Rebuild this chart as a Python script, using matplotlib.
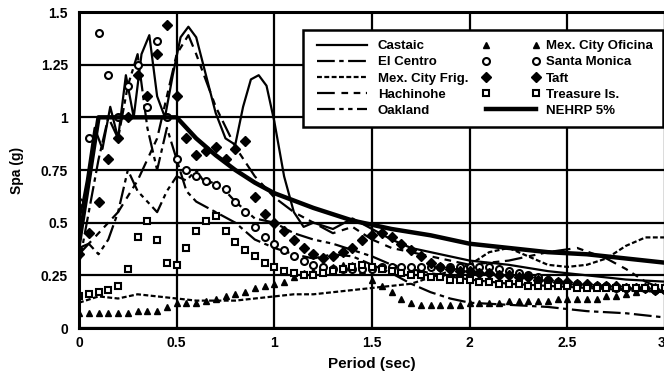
import numpy as np
import matplotlib
matplotlib.use('Agg')
import matplotlib.pyplot as plt

plt.rcParams['font.family'] = ['Liberation Sans', 'DejaVu Sans']
plt.rcParams['font.weight'] = 'bold'

# line-type spectra (period in sec, Spa in g)
castaic_t = [0, 0.04, 0.08, 0.12, 0.16, 0.2, 0.24, 0.28, 0.32, 0.36, 0.4, 0.44, 0.48, 0.52, 0.56, 0.6, 0.65,
             0.7, 0.75, 0.8, 0.84, 0.88, 0.92, 0.96, 1.0, 1.05, 1.1, 1.15, 1.2, 1.3, 1.4, 1.5, 1.6, 1.7, 1.8,
             2.0, 2.2, 2.4, 2.6, 2.8, 3.0]
castaic_s = [0.5, 0.7, 0.95, 0.85, 1.05, 0.9, 1.2, 1.0, 1.3, 1.39, 1.1, 1.0, 1.2, 1.38, 1.43, 1.38, 1.2,
             1.02, 0.9, 0.87, 1.05, 1.18, 1.2, 1.15, 0.98, 0.72, 0.55, 0.48, 0.5, 0.47, 0.52, 0.47, 0.42, 0.38, 0.36,
             0.32, 0.3, 0.27, 0.25, 0.23, 0.22]

elcentro_t = [0, 0.05, 0.1, 0.15, 0.2, 0.25, 0.3, 0.35, 0.4, 0.45, 0.5, 0.55, 0.6, 0.7, 0.8, 0.9, 1.0, 1.1,
              1.2, 1.3, 1.4, 1.5, 1.6, 1.7, 1.8, 1.9, 2.0, 2.2, 2.4, 2.6, 2.8, 3.0]
elcentro_s = [0.3, 0.55, 0.8, 1.0, 0.9, 1.15, 1.3, 0.95, 0.75, 0.95, 0.8, 0.65, 0.6, 0.55, 0.5, 0.42, 0.38, 0.35,
              0.33, 0.35, 0.34, 0.3, 0.26, 0.21, 0.17, 0.14, 0.12, 0.11, 0.1, 0.08, 0.07, 0.05]

mexfrig_t = [0, 0.1, 0.2, 0.3, 0.4, 0.5, 0.6, 0.7, 0.8, 0.9, 1.0, 1.1, 1.2, 1.3, 1.4, 1.5, 1.6, 1.7, 1.8,
             1.9, 2.0, 2.1, 2.2, 2.3, 2.4, 2.5, 2.6, 2.7, 2.8, 2.9, 3.0]
mexfrig_s = [0.12, 0.15, 0.14, 0.16, 0.15, 0.14, 0.13, 0.13, 0.13, 0.14, 0.15, 0.16, 0.16, 0.17, 0.18, 0.19,
             0.2, 0.21, 0.24, 0.27, 0.3, 0.36, 0.38, 0.34, 0.3, 0.29, 0.3, 0.33, 0.39, 0.43, 0.43]

hachinohe_t = [0, 0.1, 0.2, 0.3, 0.4, 0.45, 0.5, 0.56, 0.6, 0.7, 0.8, 0.9, 1.0, 1.1, 1.2, 1.3, 1.4, 1.5,
               1.6, 1.8, 2.0, 2.2, 2.4, 2.55, 2.7, 2.8, 2.9, 3.0]
hachinohe_s = [0.35, 0.45, 0.55, 0.7, 0.9, 1.1, 1.3, 1.39, 1.3, 1.05, 0.86, 0.72, 0.62, 0.55, 0.5, 0.45, 0.48,
               0.42, 0.38, 0.34, 0.3, 0.32, 0.36, 0.38, 0.33, 0.28, 0.22, 0.18]

oakland_t = [0, 0.05, 0.1, 0.15, 0.2, 0.25, 0.3, 0.35, 0.4, 0.45, 0.5, 0.55, 0.6, 0.65, 0.7, 0.8, 0.9, 1.0,
             1.1, 1.2, 1.3, 1.4, 1.5, 1.6, 1.8, 2.0, 2.2, 2.4, 2.6, 2.8, 3.0]
oakland_s = [0.38, 0.4, 0.35, 0.42, 0.55, 0.75, 0.65, 0.6, 0.55, 0.65, 0.72, 0.7, 0.75, 0.68, 0.7, 0.6, 0.52,
             0.5, 0.45, 0.42, 0.4, 0.37, 0.34, 0.3, 0.26, 0.23, 0.21, 0.2, 0.19, 0.18, 0.17]

nehrp_t = [0, 0.1, 0.5, 0.6, 0.7, 0.8, 0.9, 1.0, 1.2, 1.4, 1.5, 1.6, 1.8, 2.0, 2.2, 2.4, 2.6, 2.8, 3.0]
nehrp_s = [0.4, 1.0, 1.0, 0.9, 0.82, 0.75, 0.69, 0.64, 0.57, 0.51, 0.49, 0.47, 0.44, 0.4, 0.38, 0.36, 0.35,
           0.33, 0.31]

# marker-type spectra, read every 0.05 sec
periods = np.round(np.arange(0, 3.001, 0.05), 2)
mexofi_s = [0.07, 0.07, 0.07, 0.07, 0.07, 0.07, 0.08, 0.08, 0.08, 0.1, 0.12, 0.12, 0.12, 0.13, 0.14, 0.15,
            0.16, 0.17, 0.19, 0.2, 0.21, 0.22, 0.24, 0.26, 0.27, 0.28, 0.29, 0.3, 0.3, 0.27, 0.23, 0.2,
            0.17, 0.14, 0.12, 0.11, 0.11, 0.11, 0.11, 0.11, 0.12, 0.12, 0.12, 0.12, 0.13, 0.13, 0.13, 0.13,
            0.13, 0.14, 0.14, 0.14, 0.14, 0.14, 0.15, 0.15, 0.16, 0.17, 0.19, 0.2, 0.21]
stamonica_s = [0.6, 0.9, 1.4, 1.2, 1.0, 1.15, 1.25, 1.05, 1.36, 1.0, 0.8, 0.75, 0.72, 0.7, 0.68, 0.66,
               0.6, 0.55, 0.48, 0.43, 0.4, 0.37, 0.34, 0.32, 0.3, 0.29, 0.28, 0.28, 0.28, 0.28, 0.28, 0.29,
               0.29, 0.29, 0.29, 0.29, 0.29, 0.29, 0.29, 0.29, 0.29, 0.29, 0.29, 0.28, 0.27, 0.26, 0.25, 0.24,
               0.23, 0.22, 0.21, 0.21, 0.2, 0.2, 0.2, 0.19, 0.19, 0.19, 0.19, 0.18, 0.18]
taft_s = [0.35, 0.45, 0.6, 0.8, 0.9, 1.0, 1.2, 1.1, 1.3, 1.44, 1.1, 0.9, 0.82, 0.84, 0.86, 0.8,
          0.85, 0.89, 0.62, 0.54, 0.5, 0.46, 0.42, 0.38, 0.35, 0.33, 0.34, 0.36, 0.38, 0.42, 0.44, 0.45,
          0.43, 0.4, 0.37, 0.34, 0.31, 0.29, 0.28, 0.27, 0.27, 0.26, 0.26, 0.25, 0.25, 0.24, 0.24, 0.23,
          0.23, 0.22, 0.22, 0.21, 0.21, 0.2, 0.2, 0.2, 0.19, 0.19, 0.19, 0.18, 0.18]
treasure_s = [0.15, 0.16, 0.17, 0.18, 0.2, 0.28, 0.43, 0.51, 0.42, 0.31, 0.3, 0.38, 0.46, 0.51, 0.53, 0.46,
              0.41, 0.37, 0.34, 0.31, 0.29, 0.27, 0.26, 0.25, 0.25, 0.26, 0.27, 0.28, 0.29, 0.3, 0.29, 0.28,
              0.27, 0.26, 0.25, 0.25, 0.24, 0.24, 0.23, 0.23, 0.23, 0.22, 0.22, 0.21, 0.21, 0.21, 0.2, 0.2,
              0.2, 0.2, 0.2, 0.19, 0.19, 0.19, 0.19, 0.19, 0.19, 0.19, 0.19, 0.19, 0.19]

fig = plt.figure(figsize=(6.64, 3.85), dpi=100)
ax = fig.add_axes([79 / 664, 57 / 385, 586 / 664, 316 / 385])

lw = 1.6
ax.plot(castaic_t, castaic_s, color='black', lw=lw, label='Castaic')
ax.plot(elcentro_t, elcentro_s, color='black', lw=lw, dashes=(8, 2, 2, 2), label='El Centro')
ax.plot(mexfrig_t, mexfrig_s, color='black', lw=lw, dashes=(2.2, 1.1), label='Mex. City Frig.')
ax.plot(hachinohe_t, hachinohe_s, color='black', lw=lw, dashes=(8, 3, 3, 2.5, 3, 2.5), label='Hachinohe')
ax.plot(oakland_t, oakland_s, color='black', lw=lw, dashes=(8, 2, 2, 2, 2, 2), label='Oakland')

ax.plot(periods, mexofi_s, ls='none', marker='^', ms=5, color='black', label='Mex. City Oficina')
ax.plot(periods, stamonica_s, ls='none', marker='o', ms=5, mfc='white', mec='black', mew=1.5,
        label='Santa Monica')
ax.plot(periods, taft_s, ls='none', marker='D', ms=5, color='black', label='Taft')
ax.plot(periods, treasure_s, ls='none', marker='s', ms=5, mfc='white', mec='black', mew=1.5,
        label='Treasure Is.')
ax.plot(nehrp_t, nehrp_s, color='black', lw=3.2, label='NEHRP 5%')

ax.set_xlim(0, 3)
ax.set_ylim(0, 1.5)
ax.set_xticks([0, 0.5, 1, 1.5, 2, 2.5, 3])
ax.set_xticklabels(['0', '0.5', '1', '1.5', '2', '2.5', '3'])
ax.get_xticklabels()[-1].set_horizontalalignment('right')
ax.set_yticks([0, 0.25, 0.5, 0.75, 1, 1.25, 1.5])
ax.set_yticklabels(['0', '0.25', '0.5', '0.75', '1', '1.25', '1.5'])
ax.tick_params(length=0, labelsize=10)
ax.tick_params(axis='x', pad=6)
ax.tick_params(axis='y', pad=8)
ax.grid(True, color='black', lw=1.6)
ax.set_axisbelow(True)
for sp in ax.spines.values():
    sp.set_linewidth(2.2)

ax.set_xlabel('Period (sec)', fontsize=11, fontweight='bold', labelpad=5)
ax.set_ylabel('Spa (g)', fontsize=10, fontweight='bold', labelpad=12)

leg = ax.legend(ncol=2, loc='upper right', bbox_to_anchor=(663 / 664, 355 / 385),
                bbox_transform=fig.transFigure, borderaxespad=0, fancybox=False, framealpha=1,
                edgecolor='black', fontsize=9.5, handlelength=4.4, labelspacing=0.3,
                columnspacing=1.0, handletextpad=0.5, borderpad=0.75, numpoints=2)
leg.get_frame().set_linewidth(1.8)

fig.savefig('out.png', dpi=100)
